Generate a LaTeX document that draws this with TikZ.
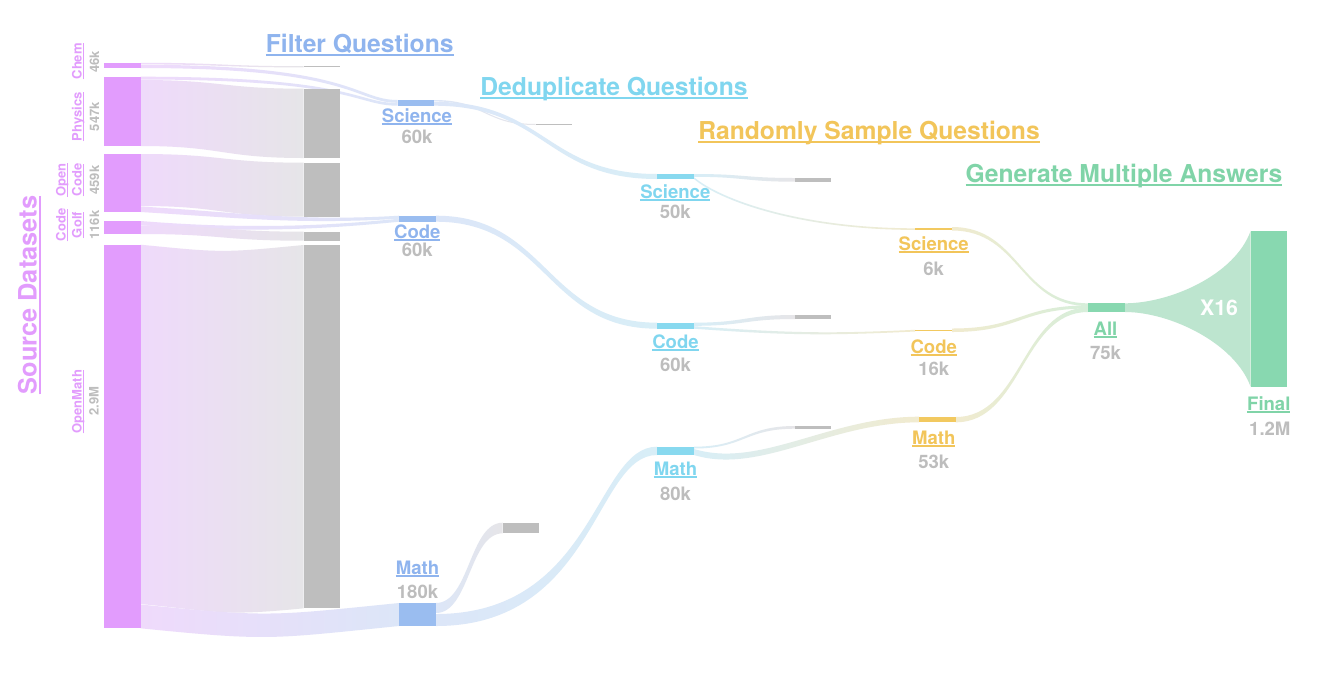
\documentclass[tikz,border=0pt]{standalone}
\usepackage{fontspec}
\setmainfont{TeX Gyre Heros}
\usetikzlibrary{calc,fit}
\definecolor{cPink}{HTML}{E29CFD}
\definecolor{cBlue}{HTML}{9ABDF0}
\definecolor{tBlue}{HTML}{8FB4EE}
\definecolor{cCyan}{HTML}{88D9EF}
\definecolor{tCyan}{HTML}{80D6EF}
\definecolor{cYel}{HTML}{F2C960}
\definecolor{tYel}{HTML}{F2C55A}
\definecolor{cGreen}{HTML}{88D8B0}
\definecolor{tGreen}{HTML}{80D4A8}
\definecolor{cGray}{HTML}{BEBEBE}
\definecolor{tGray}{HTML}{BDBDBD}
\definecolor{lPink}{HTML}{EFDAFB}
\definecolor{lGray}{HTML}{E6E5E8}
\definecolor{lBlue}{HTML}{DCE6F8}
\definecolor{lCyan}{HTML}{D8EEF7}
\definecolor{lYel}{HTML}{F1EBCF}
\definecolor{lGreen}{HTML}{D6EEDA}
\definecolor{fanc}{HTML}{BDE5CF}
\newcommand\myul[1]{\setbox0=\hbox{#1}\leavevmode\rlap{\copy0}\rule[-0.16em]{\wd0}{0.08em}}
\newcommand\ribbonpath[8]{(#1,#2) .. controls ($(#7)+(0,#2)$) and ($(#8)+(0,#5)$) .. (#4,#5) -- (#4,#6) .. controls ($(#8)+(0,#6)$) and ($(#7)+(0,#3)$) .. (#1,#3) -- cycle}
\begin{document}
\begin{tikzpicture}[x=0.75pt,y=-0.75pt,
  bar/.style={inner sep=0pt,outer sep=0pt,draw=none},
  lab/.style={font=\bfseries\fontsize{13.9}{16}\selectfont,inner sep=0pt,anchor=base},
  num/.style={lab,text=tGray},
  src/.style={font=\bfseries\fontsize{9.75}{11}\selectfont,inner sep=0pt,anchor=base,rotate=90},
  title/.style={font=\bfseries\fontsize{18.5}{22}\selectfont,inner sep=0pt,anchor=base},
  pg/.style={left color=lPink,right color=lGray},
  pb/.style={left color=lPink,right color=lBlue},
  bg/.style={left color=lBlue,right color=lGray},
  bc/.style={left color=lBlue,right color=lCyan},
  cg/.style={left color=lCyan,right color=lGray},
  cy/.style={left color=lCyan,right color=lYel},
  yg/.style={left color=lYel,right color=lGreen}]
\fill[white] (0,0) rectangle (1330,672);
\useasboundingbox (0,0) rectangle (1330,672);

% ---- ribbons: sources -> filter
\shade[pg] \ribbonpath{140.7}{62.8}{64.4}{303.5}{66.2}{67.4}{222,0}{222,0};
\shade[pb] \ribbonpath{140.7}{64.8}{68}{397.7}{100}{102.8}{355,0}{355,0};
\shade[pb] \ribbonpath{140.7}{76.7}{79.5}{397.7}{103}{105.7}{355,0}{355,0};
\shade[pg] \ribbonpath{140.7}{80}{146}{303.5}{88.7}{158}{222,0}{222,0};
\shade[pg] \ribbonpath{140.7}{154}{206}{303.5}{162.7}{216.7}{222,0}{222,0};
\shade[pb] \ribbonpath{140.7}{206.5}{212}{399}{215.7}{218.7}{240,6}{300,6};
\shade[pb] \ribbonpath{140.7}{221}{225}{399}{218.7}{221.7}{240,8}{320,8};
\shade[pg] \ribbonpath{140.7}{225.4}{234}{303.5}{231.7}{240.7}{222,0}{222,0};
\shade[pg] \ribbonpath{140.7}{244.7}{604}{303.5}{245}{608.3}{222,8}{222,8};
\shade[pb] \ribbonpath{140.7}{604.5}{628.3}{399}{603}{626}{270,13}{270,13};
% ---- filter -> dedup
\shade[bg] \ribbonpath{434}{100}{101.4}{535.7}{124}{125}{485,0}{485,0};
\shade[bc] \ribbonpath{434}{101.8}{105.7}{657}{174}{179}{545.5,0}{545.5,0};
\shade[bc] \ribbonpath{436}{215.7}{221.7}{657}{322.7}{328.7}{546.5,0}{546.5,0};
\shade[bg] \ribbonpath{436}{603}{613}{502.7}{522.7}{533.3}{469.5,0}{469.5,0};
\shade[bc] \ribbonpath{436}{614}{626}{657}{446.7}{455}{595,0}{595,0};
% ---- dedup -> sample
\shade[cg] \ribbonpath{694}{174}{176.8}{795}{178}{181.7}{744.5,0}{744.5,0};
\shade[cy] \ribbonpath{694}{177.2}{179}{915}{228.3}{229.9}{720,22}{800,0};
\shade[cg] \ribbonpath{694}{322.7}{325.8}{795}{315}{319}{744.5,0}{744.5,0};
\shade[cy] \ribbonpath{694}{326.2}{328.7}{915}{329.8}{331.5}{790,7}{830,4};
\shade[cg] \ribbonpath{694}{446.7}{448.5}{795}{426}{428.7}{744.5,0}{744.5,0};
\shade[cy] \ribbonpath{694}{449}{455}{919}{416.7}{422.3}{760,20}{830,0};
% ---- sample -> all
\shade[yg] \ribbonpath{952}{227}{230.5}{1088}{303.3}{306}{1020,0}{1020,0};
\shade[yg] \ribbonpath{952}{328.5}{332}{1088}{305.5}{308.5}{1020,0}{1020,0};
\shade[yg] \ribbonpath{955.7}{417}{422.3}{1088}{307.5}{312}{1022,0}{1022,0};
% ---- all -> final fan
\fill[fanc] (1125,303.3) .. controls (1170,303.3) and (1235,275) .. (1250.7,230.7) -- (1250.7,387) .. controls (1235,343) and (1170,312) .. (1125,312) -- cycle;

% ---- bars
\node[bar,fill=cPink,fit={(104,62.7) (140.7,68)}] (chem) {};
\node[bar,fill=cPink,fit={(104,76.7) (140.7,146)}] (phys) {};
\node[bar,fill=cPink,fit={(104,154) (140.7,212)}] (ocode) {};
\node[bar,fill=cPink,fit={(104,221) (140.7,234)}] (cgolf) {};
\node[bar,fill=cPink,fit={(104,244.7) (140.7,628.3)}] (omath) {};
\node[bar,fill=cGray,fit={(303.5,66.2) (340,67.4)}] (g1chem) {};
\node[bar,fill=cGray,fit={(303.5,88.7) (340,158)}] (g1phys) {};
\node[bar,fill=cGray,fit={(303.5,162.7) (340,216.7)}] (g1oc) {};
\node[bar,fill=cGray,fit={(303.5,231.7) (340,240.7)}] (g1cg) {};
\node[bar,fill=cGray,fit={(303.5,245) (340,608.3)}] (g1om) {};
\node[bar,fill=cBlue,fit={(397.7,100) (434,105.7)}] (fsci) {};
\node[bar,fill=cBlue,fit={(399,215.7) (436,221.7)}] (fcode) {};
\node[bar,fill=cBlue,fit={(399,603) (436,626)}] (fmath) {};
\node[bar,fill=cGray,fit={(535.7,124) (572,125.2)}] (g2sci) {};
\node[bar,fill=cGray,fit={(502.7,522.7) (539,533.3)}] (g2math) {};
\node[bar,fill=cCyan,fit={(657,174) (694,179)}] (dsci) {};
\node[bar,fill=cCyan,fit={(657,322.7) (694,328.7)}] (dcode) {};
\node[bar,fill=cCyan,fit={(657,446.7) (694,455)}] (dmath) {};
\node[bar,fill=cGray,fit={(795,178) (831,182)}] (g3sci) {};
\node[bar,fill=cGray,fit={(795,315) (831,319)}] (g3code) {};
\node[bar,fill=cGray,fit={(795,426) (831,428.7)}] (g3math) {};
\node[bar,fill=cYel,fit={(915,228.4) (952,229.8)}] (ssci) {};
\node[bar,fill=cYel,fit={(915,329.8) (952,331.3)}] (scode) {};
\node[bar,fill=cYel,fit={(919,416.7) (955.7,422.3)}] (smath) {};
\node[bar,fill=cGreen,fit={(1088,303.3) (1125,312)}] (all) {};
\node[bar,fill=cGreen,fit={(1250.7,230.7) (1287.3,387)}] (final) {};

% ---- titles
\node[title,text=tBlue] (t1) at (359.7,52) {\myul{Filter Questions}};
\node[title,text=tCyan] (t2) at (614,95) {\myul{Deduplicate Questions}};
\node[title,text=tYel] (t3) at (869,139) {\myul{Randomly Sample Questions}};
\node[title,text=tGreen] (t4) at (1124,182) {\myul{Generate Multiple Answers}};
\node[src,text=cPink,font=\bfseries\fontsize{19}{22}\selectfont] (srcT) at (36.5,295) {\myul{Source Datasets}};

% ---- source labels
\node[src,text=cPink] (chemL) at (81.5,61.3) {\myul{Chem}};
\node[src,text=tGray] (chemN) at (99,61.7) {46k};
\node[src,text=cPink] (physL) at (81.5,116.7) {\myul{Physics}};
\node[src,text=tGray] (physN) at (99,116.7) {547k};
\node[src,text=cPink] (ocL1) at (65.5,180) {\myul{Open}};
\node[src,text=cPink] (ocL2) at (81.5,180) {\myul{Code}};
\node[src,text=tGray] (ocN) at (99,180) {459k};
\node[src,text=cPink] (cgL1) at (65.5,225) {\myul{Code}};
\node[src,text=cPink] (cgL2) at (81.5,225) {\myul{Golf}};
\node[src,text=tGray] (cgN) at (99,225) {116k};
\node[src,text=cPink] (omL) at (81.5,401.7) {\myul{OpenMath}};
\node[src,text=tGray] (omN) at (98.7,400.8) {2.9M};

% ---- stage labels
\node[lab,text=tBlue] (fsciL) at (417,122) {\myul{Science}};
\node[num] (fsciN) at (417,143) {60k};
\node[lab,text=tBlue] (fcodeL) at (417.3,238) {\myul{Code}};
\node[num] (fcodeN) at (417.3,256.7) {60k};
\node[lab,text=tBlue] (fmathL) at (417.5,574) {\myul{Math}};
\node[num] (fmathN) at (417.5,598) {180k};
\node[lab,text=tCyan] (dsciL) at (675.3,198) {\myul{Science}};
\node[num] (dsciN) at (675.3,218.7) {50k};
\node[lab,text=tCyan] (dcodeL) at (675.5,348) {\myul{Code}};
\node[num] (dcodeN) at (675.5,371.7) {60k};
\node[lab,text=tCyan] (dmathL) at (675.5,475) {\myul{Math}};
\node[num] (dmathN) at (675.5,500) {80k};
\node[lab,text=tYel] (ssciL) at (933.7,250) {\myul{Science}};
\node[num] (ssciN) at (933.7,275) {6k};
\node[lab,text=tYel] (scodeL) at (933.7,353) {\myul{Code}};
\node[num] (scodeN) at (933.7,375) {16k};
\node[lab,text=tYel] (smathL) at (933.8,444) {\myul{Math}};
\node[num] (smathN) at (933.8,468) {53k};
\node[lab,text=tGreen] (allL) at (1105.5,335) {\myul{All}};
\node[num] (allN) at (1105.5,359) {75k};
\node[lab,text=tGreen] (finalL) at (1268.8,410) {\myul{Final}};
\node[num] (finalN) at (1269.8,435) {1.2M};
\node[font=\bfseries\fontsize{16}{18}\selectfont,text=white,inner sep=0pt] (x16) at (1219,308) {X16};
\end{tikzpicture}
\end{document}
